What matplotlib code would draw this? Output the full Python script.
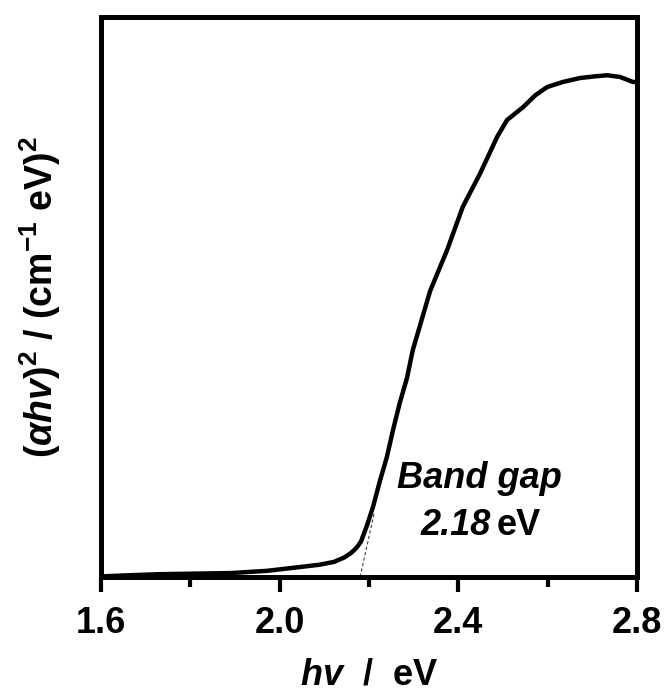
import matplotlib
matplotlib.use("Agg")
import matplotlib.pyplot as plt

plt.rcParams['font.family'] = ['Liberation Sans', 'DejaVu Sans']
plt.rcParams['mathtext.fontset'] = 'custom'
plt.rcParams['mathtext.rm'] = 'Liberation Sans:bold'
plt.rcParams['mathtext.it'] = 'Liberation Sans:bold:italic'
plt.rcParams['mathtext.bf'] = 'Liberation Sans:bold'

# photon energy (eV) and (alpha h nu)^2 in arbitrary units
energy = [1.600, 1.660, 1.732, 1.810, 1.891, 1.972, 2.048, 2.090, 2.122, 2.145,
          2.160, 2.172, 2.182, 2.196, 2.209, 2.225, 2.240, 2.254, 2.269, 2.285,
          2.298, 2.337, 2.375, 2.410, 2.449, 2.487, 2.509, 2.545, 2.572, 2.599,
          2.634, 2.672, 2.705, 2.733, 2.762, 2.791, 2.800]
tauc = [0.001, 0.003, 0.005, 0.006, 0.007, 0.011, 0.018, 0.022, 0.027, 0.035,
        0.043, 0.052, 0.063, 0.093, 0.125, 0.173, 0.214, 0.263, 0.311, 0.355,
        0.405, 0.511, 0.584, 0.661, 0.721, 0.786, 0.816, 0.839, 0.860, 0.875,
        0.884, 0.891, 0.894, 0.896, 0.893, 0.884, 0.884]

# tangent (linear extrapolation) to the band edge
tangent_x = [2.180, 2.212]
tangent_y = [0.000, 0.115]

xticks = [1.6, 2.0, 2.4, 2.8]
xtick_labels = ['1.6', '2.0', '2.4', '2.8']
minor_xticks = [1.8, 2.2, 2.6]

band_gap_value = '2.18'

fig = plt.figure(figsize=(6.7, 6.95), dpi=100)
ax = fig.add_axes([0.1507, 0.1698, 0.8000, 0.8057])

ax.plot(energy, tauc, color='black', lw=3.2, solid_joinstyle='round',
        solid_capstyle='round', zorder=3)
ax.plot(tangent_x, tangent_y, color='#444444', lw=0.8, ls=(0, (3, 2)), zorder=2)

ax.set_xlim(1.6, 2.8)
ax.set_ylim(0, 1.0)
ax.set_xticks(xticks)
ax.set_xticklabels(xtick_labels)
ax.set_xticks(minor_xticks, minor=True)
ax.set_yticks([])

for s in ax.spines.values():
    s.set_linewidth(3.6)

ax.tick_params(axis='x', which='major', direction='out', length=11, width=3,
               labelsize=26, pad=10)
ax.tick_params(axis='x', which='minor', direction='out', length=7, width=3)
for lbl in ax.get_xticklabels():
    lbl.set_fontweight('bold')

ax.set_xlabel(r'$hv$  /  eV', fontsize=26, fontweight='bold', labelpad=12)
ax.set_ylabel(r'$(\alpha hv)^{2}$ / (cm$^{-1}$ eV)$^{2}$', fontsize=27,
              fontweight='bold', labelpad=27)

ax.text(0.707, 0.159, 'Band gap', transform=ax.transAxes, fontsize=26,
        fontweight='bold', fontstyle='italic', ha='center', va='baseline')
ax.text(0.728, 0.075, band_gap_value, transform=ax.transAxes, fontsize=26,
        fontweight='bold', fontstyle='italic', ha='right', va='baseline')
ax.text(0.738, 0.075, 'eV', transform=ax.transAxes, fontsize=26,
        fontweight='bold', ha='left', va='baseline')

fig.savefig('out.png', dpi=100)
